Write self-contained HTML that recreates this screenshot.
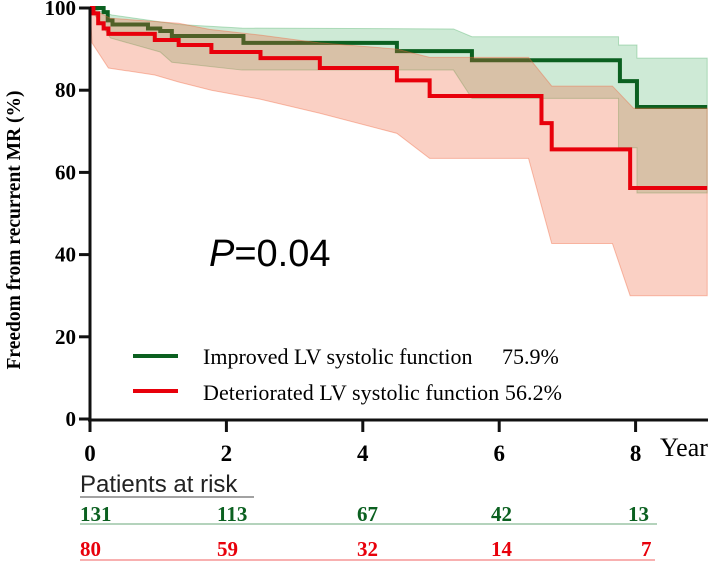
<!DOCTYPE html>
<html><head><meta charset="utf-8"><style>
body{margin:0;background:#fff;width:709px;height:562px;overflow:hidden}
svg{display:block}
.serif{font-family:"Liberation Serif",serif}
</style></head><body>
<svg id="chart" width="709" height="562" viewBox="0 0 709 562">
<g id="bands"></g>
<g id="lines"></g>
<g id="axes"></g>
<text x="209" y="266" font-family="Liberation Sans, sans-serif" font-size="38"><tspan font-style="italic">P</tspan>=0.04</text>
<line x1="133" y1="356" x2="178" y2="356" stroke="#0b6020" stroke-width="4"/>
<text class="serif" x="203" y="364" font-size="22">Improved LV systolic function</text>
<text class="serif" x="502" y="364" font-size="22">75.9%</text>
<line x1="133" y1="391" x2="178" y2="391" stroke="#e8000b" stroke-width="4"/>
<text class="serif" x="203" y="400" font-size="22" textLength="359">Deteriorated LV systolic function 56.2%</text>
<text class="serif" font-weight="bold" font-size="19.5" transform="translate(20,230) rotate(-90)" text-anchor="middle">Freedom from recurrent MR (%)</text>
<text class="serif" x="660" y="456" font-size="26">Year</text>
<text x="80" y="492" font-family="Liberation Sans, sans-serif" font-size="24" fill="#222">Patients at risk</text>
<line x1="80" y1="497" x2="254" y2="497" stroke="#444" stroke-width="1"/>
<line x1="80" y1="524" x2="657" y2="524" stroke="#6aa77a" stroke-width="1"/>
<line x1="80" y1="560" x2="655" y2="560" stroke="#f06060" stroke-width="1"/>
<g id="risk"></g>
</svg>
<script>
const tickYears=[0,2,4,6,8];
const yTicks=[0,20,40,60,80,100];
const greenT=[0,0.2,0.26,0.33,0.85,1.03,1.2,2.25,4.5,5.6,7.77,8.02,9.05];
const greenS=[100,99,97,96,95,94.4,93.2,91.5,89.5,87.3,82.2,75.9,75.9];
const redT=[0,0.05,0.12,0.2,0.27,0.95,1.3,1.78,2.5,3.37,4.5,4.98,6.62,6.77,7.92,9.05];
const redS=[100,98.7,96.3,95,93.7,92.2,91,89.3,87.8,85.4,82.4,78.6,72,65.6,56.2,56.2];
const gUpT=[0,0.32,1.3,2.23,5.33,5.6,7.75,7.75,8.02,8.02,9.05];
const gUpS=[100,98.3,96,95.1,94.9,93,93,91,91,87.8,87.8];
const gLoT=[0,0.3,1.03,1.2,2.23,5.33,5.6,7.75,7.75,8.02,8.02,9.05];
const gLoS=[100,92.7,89.3,86.8,84.9,84.9,78,78,66,66,55,55];
const rUpT=[0,0.3,1.3,1.75,2.5,3.37,4.5,4.98,6.43,6.77,7.66,7.97,9.05];
const rUpS=[100,97.5,96.3,94.8,93.4,91.5,90,88,88,81,81,75.6,75.6];
const rLoT=[0,0.03,0.27,0.95,1.3,1.78,2.5,3.37,4.5,4.98,6.43,6.77,7.66,7.92,9.05];
const rLoS=[100,91.5,85.4,83.7,82,80,77.8,74.4,69.5,63.4,63.4,42.7,42.7,30,30];
const riskGreen=[131,113,67,42,13];
const riskRed=[80,59,32,14,7];
const riskX=[80,217,357,491,628];

const X=t=>90+t*68.2, Y=s=>419-s*4.11;
const NS='http://www.w3.org/2000/svg';
function mk(tag,parent,attrs){const e=document.createElementNS(NS,tag);for(const k in attrs)e.setAttribute(k,attrs[k]);parent.appendChild(e);return e;}
function band(upT,upS,loT,loS){let p=upT.map((t,i)=>X(t)+','+Y(upS[i]));for(let i=loT.length-1;i>=0;i--)p.push(X(loT[i])+','+Y(loS[i]));return p.join(' ');}
function step(T,S){let d='M'+X(T[0])+','+Y(S[0]);for(let i=1;i<T.length;i++){d+=' H'+X(T[i])+' V'+Y(S[i]);}return d;}
const bands=document.getElementById('bands'),lines=document.getElementById('lines');
let gb=mk('polygon',bands,{points:band(gUpT,gUpS,gLoT,gLoS),fill:'rgba(60,170,90,0.25)',stroke:'rgba(60,170,90,0.35)','stroke-width':1});

let gl=mk('path',bands,{d:step(greenT,greenS),fill:'none',stroke:'#0b6020','stroke-width':4});

let rb=mk('polygon',bands,{points:band(rUpT,rUpS,rLoT,rLoS),fill:'rgba(240,100,60,0.3)',stroke:'rgba(240,100,60,0.4)','stroke-width':1});

let rl=mk('path',lines,{d:step(redT,redS),fill:'none',stroke:'#e8000b','stroke-width':4});

const ax=document.getElementById('axes');
let ya=mk('line',ax,{x1:90,y1:7,x2:90,y2:421,stroke:'#111','stroke-width':3});

let xa=mk('line',ax,{x1:88,y1:420,x2:708,y2:420,stroke:'#111','stroke-width':3});

yTicks.forEach(v=>{
 let l=mk('line',ax,{x1:79,y1:Y(v),x2:90,y2:Y(v),stroke:'#111','stroke-width':3});
 
 let t=mk('text',ax,{x:76,y:Y(v)+7,'text-anchor':'end','font-family':'Liberation Serif, serif','font-weight':'bold','font-size':21});
 t.textContent=v;
 
});
tickYears.forEach(v=>{
 let l=mk('line',ax,{x1:X(v),y1:420,x2:X(v),y2:432,stroke:'#111','stroke-width':3});
 
 let t=mk('text',ax,{x:X(v),y:461,'text-anchor':'middle','font-family':'Liberation Serif, serif','font-weight':'bold','font-size':23});
 t.textContent=v;
 
});
const rk=document.getElementById('risk');
riskGreen.forEach((v,i)=>{
 let t=mk('text',rk,{x:riskX[i],y:521,fill:'#0b6020','font-family':'Liberation Serif, serif','font-weight':'bold','font-size':21});
 t.textContent=v;
 
});
riskRed.forEach((v,i)=>{
 let t=mk('text',rk,{x:riskX[i]+(String(v).length===1?13:0),y:556,fill:'#e8000b','font-family':'Liberation Serif, serif','font-weight':'bold','font-size':21});
 t.textContent=v;
 
});
</script>
</body></html>
